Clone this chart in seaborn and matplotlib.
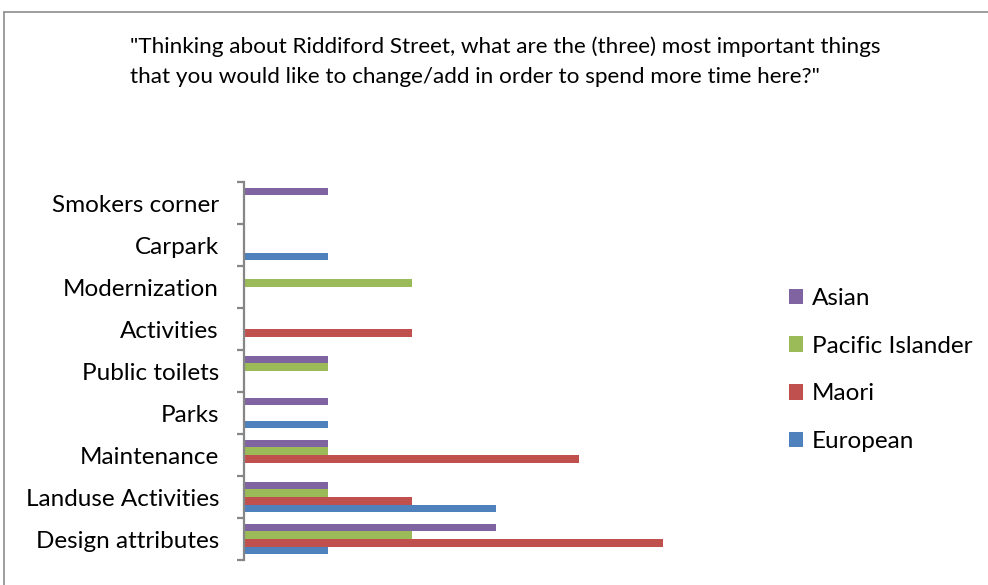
import pandas as pd
import seaborn as sns
import matplotlib.pyplot as plt
from matplotlib.lines import Line2D

# data (counts of responses)
categories = ['Smokers corner', 'Carpark', 'Modernization', 'Activities', 'Public toilets',
              'Parks', 'Maintenance', 'Landuse Activities', 'Design attributes']
european = [0, 1, 0, 0, 0, 1, 0, 3, 1]
maori = [0, 0, 0, 2, 0, 0, 4, 2, 5]
pacific = [0, 0, 2, 0, 1, 0, 1, 1, 2]
asian = [1, 0, 0, 0, 1, 1, 1, 1, 3]

groups = ['Asian', 'Pacific Islander', 'Maori', 'European']
colours = {'Asian': '#8064A2', 'Pacific Islander': '#9BBB59',
           'Maori': '#C0504D', 'European': '#4F81BD'}

title = ('"Thinking about Riddiford Street, what are the (three) most important things\n'
         'that you would like to change/add in order to spend more time here?"')

df = pd.DataFrame({'category': categories, 'European': european, 'Maori': maori,
                   'Pacific Islander': pacific, 'Asian': asian})
df = df.melt(id_vars='category', var_name='group', value_name='count')

sns.set_style('white')
plt.rcParams['font.family'] = ['Lato', 'DejaVu Sans']
plt.rcParams['text.color'] = 'black'
plt.rcParams['ytick.labelcolor'] = 'black'

fig = plt.figure(figsize=(9.88, 5.85), dpi=100)
ax = fig.add_axes([244 / 988, 1 - 560 / 585, 503 / 988, 378 / 585])

sns.barplot(data=df, x='count', y='category', hue='group', order=categories,
            hue_order=groups, palette=colours, orient='h', width=0.73,
            saturation=1, linewidth=0, ax=ax)

ax.set_xlim(0, 6)
ax.set_ylim(len(categories) - 0.5, -0.5)
ax.set_xlabel('')
ax.set_ylabel('')
ax.set_xticks([])
for s in ['top', 'right', 'bottom']:
    ax.spines[s].set_visible(False)
ax.spines['left'].set_color('#868686')
ax.spines['left'].set_linewidth(1.6)

# ticks on the category boundaries, labels centred
ax.set_yticks([i - 0.5 for i in range(len(categories) + 1)], minor=True)
ax.tick_params(axis='y', which='minor', length=5, width=1.6, color='#868686', left=True)
ax.tick_params(axis='y', which='major', length=0, pad=18, labelsize=17.5, left=True,
               labelcolor='black')

handles, labels = ax.get_legend_handles_labels()
leg = ax.legend(handles, labels, loc='center left', bbox_to_anchor=(767 / 988, 1 - 370 / 585),
                bbox_transform=fig.transFigure, frameon=False, fontsize=17.5,
                handlelength=0.6, handleheight=0.6, handletextpad=0.35, labelspacing=1.1)
for t in leg.get_texts():
    t.set_color('black')

fig.text(130 / 988, 1 - 62 / 585, title, ha='left', va='center', fontsize=16.2,
         linespacing=1.6, color='black')

# chart frame (only top and left edges fall inside the image)
fig.add_artist(Line2D([4 / 988, 4 / 988], [0, 1 - 12 / 585], color='#8c8c8c', lw=1.2,
                      transform=fig.transFigure))
fig.add_artist(Line2D([4 / 988, 1], [1 - 12 / 585, 1 - 12 / 585], color='#8c8c8c', lw=1.2,
                      transform=fig.transFigure))

fig.savefig('out.png', dpi=100)
